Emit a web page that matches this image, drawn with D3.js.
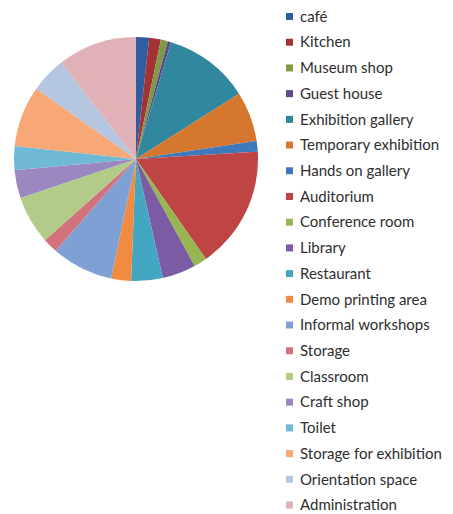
<!DOCTYPE html>
<html>
<head>
<meta charset="utf-8">
<script src="https://cdn.jsdelivr.net/npm/d3@7"></script>
<style>
  body { margin: 0; background: #fff; }
  text { font-family: Lato, "Open Sans", sans-serif; }
</style>
</head>
<body>
<div id="chart"></div>
<script>
// spaces and their share (in degrees of 360)
var spaces = ["café", "Kitchen", "Museum shop", "Guest house", "Exhibition gallery",
  "Temporary exhibition", "Hands on gallery", "Auditorium", "Conference room", "Library",
  "Restaurant", "Demo printing area", "Informal workshops", "Storage", "Classroom",
  "Craft shop", "Toilet", "Storage for exhibition", "Orientation space", "Administration"];
var shares = [6.2, 5.6, 3.3, 1.6, 40.9, 23.9, 5.1, 58.4, 6.3, 16,
  15, 9.5, 29.4, 7.1, 23, 13.4, 11.4, 29.1, 17, 37.8];
var colors = ["#2f5d9f", "#a33333", "#7f9a46", "#5e4a8b", "#31889e", "#d6772f",
  "#3e79bb", "#be4543", "#97b651", "#7b5ba4", "#43a7c2", "#f28b42",
  "#7ea0d4", "#d2727d", "#b3cb88", "#9c88c0", "#6fb9d6", "#f7a876",
  "#b5c6e1", "#e0b2b7"];

var width = 453, height = 514;
var cx = 136, cy = 159, radius = 122;

var data = spaces.map(function(s, i) { return {name: s, value: shares[i]}; });

var svg = d3.select("#chart").append("svg")
  .attr("width", width)
  .attr("height", height);

var color = d3.scaleOrdinal().domain(spaces).range(colors);

var pie = d3.pie().sort(null).value(function(d) { return d.value; });
var arc = d3.arc().innerRadius(0).outerRadius(radius);

//pie slices
svg.append("g")
  .attr("transform", "translate(" + cx + "," + cy + ")")
  .selectAll("path")
  .data(pie(data))
  .enter()
  .append("path")
    .attr("d", arc)
    .attr("fill", function(d) { return color(d.data.name); });

//legend
var legendY = d3.scalePoint().domain(spaces).range([16.5, 505]);

var legend = svg.append("g")
  .selectAll("g")
  .data(data)
  .enter()
  .append("g")
    .attr("transform", function(d) { return "translate(286," + legendY(d.name) + ")"; });

legend.append("rect")
  .attr("x", 0)
  .attr("y", -3.5)
  .attr("width", 7)
  .attr("height", 7)
  .attr("fill", function(d) { return color(d.name); });

legend.append("text")
  .attr("x", 14)
  .attr("dy", "0.35em")
  .attr("font-size", "15px")
  .attr("fill", "#2e2e2e")
  .text(function(d) { return d.name; });
</script>
</body>
</html>
